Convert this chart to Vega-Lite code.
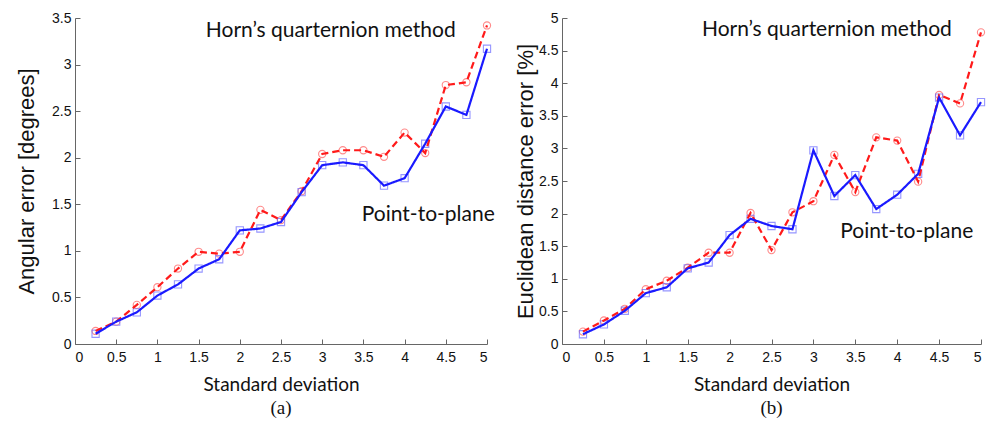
{
  "$schema": "https://vega.github.io/schema/vega-lite/v6.json",
  "background": "white",
  "padding": {"left": 15, "top": 11, "right": 2, "bottom": 5},
  "bounds": "flush",
  "spacing": 75,
  "datasets": {
    "angular": [
      {"sd": 0.25, "method": "Horn", "value": 0.14}, {"sd": 0.5, "method": "Horn", "value": 0.24},
      {"sd": 0.75, "method": "Horn", "value": 0.42}, {"sd": 1.0, "method": "Horn", "value": 0.61},
      {"sd": 1.25, "method": "Horn", "value": 0.81}, {"sd": 1.5, "method": "Horn", "value": 0.99},
      {"sd": 1.75, "method": "Horn", "value": 0.97}, {"sd": 2.0, "method": "Horn", "value": 0.99},
      {"sd": 2.25, "method": "Horn", "value": 1.44}, {"sd": 2.5, "method": "Horn", "value": 1.33},
      {"sd": 2.75, "method": "Horn", "value": 1.64}, {"sd": 3.0, "method": "Horn", "value": 2.04},
      {"sd": 3.25, "method": "Horn", "value": 2.08}, {"sd": 3.5, "method": "Horn", "value": 2.08},
      {"sd": 3.75, "method": "Horn", "value": 2.01}, {"sd": 4.0, "method": "Horn", "value": 2.27},
      {"sd": 4.25, "method": "Horn", "value": 2.05}, {"sd": 4.5, "method": "Horn", "value": 2.78},
      {"sd": 4.75, "method": "Horn", "value": 2.81}, {"sd": 5.0, "method": "Horn", "value": 3.42},
      {"sd": 0.25, "method": "Plane", "value": 0.11}, {"sd": 0.5, "method": "Plane", "value": 0.24},
      {"sd": 0.75, "method": "Plane", "value": 0.34}, {"sd": 1.0, "method": "Plane", "value": 0.52},
      {"sd": 1.25, "method": "Plane", "value": 0.64}, {"sd": 1.5, "method": "Plane", "value": 0.81},
      {"sd": 1.75, "method": "Plane", "value": 0.91}, {"sd": 2.0, "method": "Plane", "value": 1.22},
      {"sd": 2.25, "method": "Plane", "value": 1.24}, {"sd": 2.5, "method": "Plane", "value": 1.31},
      {"sd": 2.75, "method": "Plane", "value": 1.63}, {"sd": 3.0, "method": "Plane", "value": 1.92},
      {"sd": 3.25, "method": "Plane", "value": 1.95}, {"sd": 3.5, "method": "Plane", "value": 1.92},
      {"sd": 3.75, "method": "Plane", "value": 1.70}, {"sd": 4.0, "method": "Plane", "value": 1.78},
      {"sd": 4.25, "method": "Plane", "value": 2.15}, {"sd": 4.5, "method": "Plane", "value": 2.55},
      {"sd": 4.75, "method": "Plane", "value": 2.46}, {"sd": 5.0, "method": "Plane", "value": 3.17}
    ],
    "euclid": [
      {"sd": 0.25, "method": "Horn", "value": 0.19}, {"sd": 0.5, "method": "Horn", "value": 0.36},
      {"sd": 0.75, "method": "Horn", "value": 0.54}, {"sd": 1.0, "method": "Horn", "value": 0.84},
      {"sd": 1.25, "method": "Horn", "value": 0.97}, {"sd": 1.5, "method": "Horn", "value": 1.17},
      {"sd": 1.75, "method": "Horn", "value": 1.40}, {"sd": 2.0, "method": "Horn", "value": 1.40},
      {"sd": 2.25, "method": "Horn", "value": 2.01}, {"sd": 2.5, "method": "Horn", "value": 1.44},
      {"sd": 2.75, "method": "Horn", "value": 2.02}, {"sd": 3.0, "method": "Horn", "value": 2.19},
      {"sd": 3.25, "method": "Horn", "value": 2.90}, {"sd": 3.5, "method": "Horn", "value": 2.33},
      {"sd": 3.75, "method": "Horn", "value": 3.17}, {"sd": 4.0, "method": "Horn", "value": 3.12},
      {"sd": 4.25, "method": "Horn", "value": 2.49}, {"sd": 4.5, "method": "Horn", "value": 3.82},
      {"sd": 4.75, "method": "Horn", "value": 3.69}, {"sd": 5.0, "method": "Horn", "value": 4.78},
      {"sd": 0.25, "method": "Plane", "value": 0.15}, {"sd": 0.5, "method": "Plane", "value": 0.30},
      {"sd": 0.75, "method": "Plane", "value": 0.51}, {"sd": 1.0, "method": "Plane", "value": 0.78},
      {"sd": 1.25, "method": "Plane", "value": 0.87}, {"sd": 1.5, "method": "Plane", "value": 1.16},
      {"sd": 1.75, "method": "Plane", "value": 1.25}, {"sd": 2.0, "method": "Plane", "value": 1.67},
      {"sd": 2.25, "method": "Plane", "value": 1.92}, {"sd": 2.5, "method": "Plane", "value": 1.81},
      {"sd": 2.75, "method": "Plane", "value": 1.76}, {"sd": 3.0, "method": "Plane", "value": 2.97},
      {"sd": 3.25, "method": "Plane", "value": 2.27}, {"sd": 3.5, "method": "Plane", "value": 2.59},
      {"sd": 3.75, "method": "Plane", "value": 2.07}, {"sd": 4.0, "method": "Plane", "value": 2.29},
      {"sd": 4.25, "method": "Plane", "value": 2.61}, {"sd": 4.5, "method": "Plane", "value": 3.78},
      {"sd": 4.75, "method": "Plane", "value": 3.20}, {"sd": 5.0, "method": "Plane", "value": 3.71}
    ]
  },
  "config": {
    "view": {"stroke": null},
    "axis": {
      "grid": false,
      "domainColor": "#666666",
      "tickColor": "#666666",
      "tickSize": -5,
      "labelOverlap": false,
      "labelFont": "Liberation Sans",
      "labelFontSize": 14,
      "labelColor": "#111111",
      "titleColor": "#111111",
      "titleFontWeight": "normal"
    },
    "axisX": {"labelPadding": 11, "titlePadding": 11, "titleFont": "Lato", "titleFontSize": 19},
    "axisY": {"labelPadding": 9, "titleFont": "Liberation Sans", "titleFontSize": 22},
    "title": {"font": "Liberation Serif", "fontSize": 19, "fontWeight": "normal", "color": "#111111"}
  },
  "hconcat": [
    {
      "width": 412,
      "height": 326,
      "title": {"text": "(a)", "orient": "bottom", "offset": 5},
      "layer": [
        {
          "data": {"name": "angular"},
          "mark": {"type": "point", "filled": false, "size": 52, "strokeWidth": 1.1},
          "encoding": {
            "x": {"field": "sd", "type": "quantitative", "scale": {"domain": [0, 5]},
                  "axis": {"values": [0, 0.5, 1, 1.5, 2, 2.5, 3, 3.5, 4, 4.5, 5], "tickCount": 11, "format": "~f", "title": "Standard deviation"}},
            "y": {"field": "value", "type": "quantitative", "scale": {"domain": [0, 3.5]},
                  "axis": {"values": [0, 0.5, 1, 1.5, 2, 2.5, 3, 3.5], "tickCount": 8, "format": "~f", "title": "Angular error [degrees]", "titlePadding": 13}},
            "color": {"field": "method", "type": "nominal", "scale": {"domain": ["Horn", "Plane"], "range": ["#ff5a5a", "#6a6aff"]}, "legend": null},
            "shape": {"field": "method", "type": "nominal", "scale": {"domain": ["Horn", "Plane"], "range": ["circle", "square"]}, "legend": null}
          }
        },
        {
          "data": {"name": "angular"},
          "mark": {"type": "line", "strokeWidth": 2.2},
          "encoding": {
            "x": {"field": "sd", "type": "quantitative"},
            "y": {"field": "value", "type": "quantitative"},
            "detail": {"field": "method"},
            "stroke": {"field": "method", "type": "nominal", "scale": {"domain": ["Horn", "Plane"], "range": ["#ff1a1a", "#1a1aff"]}, "legend": null},
            "strokeDash": {"field": "method", "type": "nominal", "scale": {"domain": ["Horn", "Plane"], "range": [[7, 4], [1, 0]]}, "legend": null}
          }
        },
        {
          "data": {"values": [{"label": "Horn’s quarternion method"}]},
          "mark": {"type": "text", "font": "Lato", "fontSize": 21, "align": "right", "baseline": "middle", "color": "#111111"},
          "encoding": {"x": {"datum": 4.62}, "y": {"datum": 3.36}, "text": {"field": "label"}}
        },
        {
          "data": {"values": [{"label": "Point-to-plane"}]},
          "mark": {"type": "text", "font": "Lato", "fontSize": 21, "align": "left", "baseline": "middle", "color": "#111111"},
          "encoding": {"x": {"datum": 3.48}, "y": {"datum": 1.39}, "text": {"field": "label"}}
        }
      ]
    },
    {
      "width": 419,
      "height": 326,
      "title": {"text": "(b)", "orient": "bottom", "offset": 5},
      "layer": [
        {
          "data": {"name": "euclid"},
          "mark": {"type": "point", "filled": false, "size": 52, "strokeWidth": 1.1},
          "encoding": {
            "x": {"field": "sd", "type": "quantitative", "scale": {"domain": [0, 5]},
                  "axis": {"values": [0, 0.5, 1, 1.5, 2, 2.5, 3, 3.5, 4, 4.5, 5], "tickCount": 11, "format": "~f", "title": "Standard deviation"}},
            "y": {"field": "value", "type": "quantitative", "scale": {"domain": [0, 5]},
                  "axis": {"values": [0, 0.5, 1, 1.5, 2, 2.5, 3, 3.5, 4, 4.5, 5], "tickCount": 11, "format": "~f", "title": "Euclidean distance error [%]", "titlePadding": 1}},
            "color": {"field": "method", "type": "nominal", "scale": {"domain": ["Horn", "Plane"], "range": ["#ff5a5a", "#6a6aff"]}, "legend": null},
            "shape": {"field": "method", "type": "nominal", "scale": {"domain": ["Horn", "Plane"], "range": ["circle", "square"]}, "legend": null}
          }
        },
        {
          "data": {"name": "euclid"},
          "mark": {"type": "line", "strokeWidth": 2.2},
          "encoding": {
            "x": {"field": "sd", "type": "quantitative"},
            "y": {"field": "value", "type": "quantitative"},
            "detail": {"field": "method"},
            "stroke": {"field": "method", "type": "nominal", "scale": {"domain": ["Horn", "Plane"], "range": ["#ff1a1a", "#1a1aff"]}, "legend": null},
            "strokeDash": {"field": "method", "type": "nominal", "scale": {"domain": ["Horn", "Plane"], "range": [[7, 4], [1, 0]]}, "legend": null}
          }
        },
        {
          "data": {"values": [{"label": "Horn’s quarternion method"}]},
          "mark": {"type": "text", "font": "Lato", "fontSize": 21, "align": "left", "baseline": "middle", "color": "#111111"},
          "encoding": {"x": {"datum": 1.67}, "y": {"datum": 4.82}, "text": {"field": "label"}}
        },
        {
          "data": {"values": [{"label": "Point-to-plane"}]},
          "mark": {"type": "text", "font": "Lato", "fontSize": 21, "align": "left", "baseline": "middle", "color": "#111111"},
          "encoding": {"x": {"datum": 3.32}, "y": {"datum": 1.72}, "text": {"field": "label"}}
        }
      ]
    }
  ]
}
